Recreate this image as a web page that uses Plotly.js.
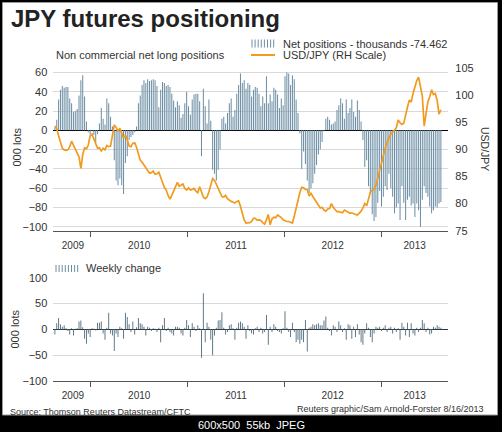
<!DOCTYPE html>
<html>
<head>
<meta charset="utf-8">
<script src="https://cdn.plot.ly/plotly-3.0.1.min.js"></script>
<style>
html,body{margin:0;padding:0;background:#000;overflow:hidden}
#chart{width:502px;height:432px}
</style>
</head>
<body>
<div id="chart"></div>
<script>
// ---------------- DATA (weekly, first week 2009-08-18) ----------------
const firstWeek = [2009, 7, 18]; // 18 Aug 2009 (month is 0-based)

// Non commercial net long positions, thousands of lots
const netPositions = [
  3, 11, 32, 42, 46, 44, 45, 45, 33, 28,
  19, 20, 22, 36, 52, 57, 35, 9, -2, -4,
  -1, -5, -13, -4, 7, 23, 12, 6, 33, 28,
  14, 4, -31, -52, -57, -50, -57, -66, -34, -27,
  -10, -7, -5, -2, 4, 28, 36, 47, 52, 49,
  53, 51, 52, 53, 52, 46, 24, 42, 50, 49,
  46, 47, 45, 38, 31, 24, 30, 26, 13, 17,
  28, 40, 25, 16, 32, 37, 38, 38, 30, -27,
  43, 25, 7, 32, 10, -41, -45, -52, -41, -20,
  12, 14, 7, 18, 28, 33, 14, 21, 38, 47,
  59, 49, 52, 43, 49, 47, 35, 42, 45, 44,
  38, 25, 35, 28, 56, 28, 37, 30, 44, 42,
  37, 23, 33, 26, 56, 60, 59, 47, 57, 53,
  32, 18, -3, -40, -22, -35, -52, -65, -60, -55,
  -45, -36, -25, -20, -12, -1, 12, 14, 11, 6,
  7, 9, 21, 26, 33, 28, 12, 32, 18, 23,
  32, 19, 14, 31, 21, 9, -10, -38, -31, -58,
  -66, -87, -94, -90, -75, -63, -79, -69, -58, -62,
  -45, -60, -69, -86, -80, -76, -93, -58, -75, -93,
  -72, -69, -78, -76, -90, -76, -83, -100, -72, -58,
  -65, -69, -79, -86, -83, -79, -80, -76, -74.462
];

// USD/JPY (right-hand scale)
const usdJpy = [
  94.3, 93.8, 92.5, 91.2, 90.2, 89.9, 89.8, 89.9, 90.5, 91.5,
  90.8, 90.2, 89.6, 88.6, 86.5, 89.0, 90.3, 90.1, 90.8, 92.5,
  92.8, 91.9, 90.8, 90.2, 90.3, 89.7, 90.2, 89.9, 90.7, 90.5,
  90.6, 92.3, 94.5, 94.1, 93.3, 93.9, 92.8, 92.1, 92.6, 91.8,
  90.6, 90.5, 91.1, 91.2, 90.4, 89.2, 88.0, 87.6, 87.1, 86.4,
  85.9, 85.6, 85.7, 86.0, 85.4, 85.5, 85.8, 85.0, 83.9, 83.0,
  82.5, 81.5, 80.8, 81.5, 82.3, 83.2, 83.9, 83.2, 83.4, 83.6,
  82.8, 82.5, 82.9, 82.5, 82.6, 82.8, 82.3, 82.0, 83.1, 82.2,
  81.2, 80.9, 81.2, 82.2, 83.2, 84.6, 84.3, 83.6, 82.8, 82.0,
  81.3, 81.2, 81.5, 80.9, 80.6, 80.4, 80.3, 80.1, 80.4, 80.5,
  79.5, 78.2, 77.0, 76.4, 76.4, 76.5, 76.7, 77.3, 77.3, 76.9,
  77.0, 76.9, 76.5, 76.2, 77.0, 78.0, 76.1, 77.2, 77.5, 77.4,
  77.9, 77.7, 77.4, 77.0, 76.8, 76.7, 76.7, 76.6, 76.4, 77.7,
  79.3, 80.7, 82.0, 83.0, 82.9, 82.6, 82.6, 81.4, 81.9, 81.3,
  80.8, 80.2, 79.6, 79.2, 79.3, 78.8, 78.6, 79.0, 79.1, 80.0,
  79.3, 78.8, 78.5, 78.5, 78.4, 78.3, 78.8, 78.6, 78.3, 78.2,
  78.3, 78.1, 78.0, 77.9, 78.2, 78.6, 79.2, 80.0, 79.6, 80.8,
  82.1, 82.4, 82.6, 83.4, 84.8, 86.3, 87.6, 89.1, 90.2, 91.3,
  92.2, 92.8, 93.2, 93.5, 94.0, 95.4, 94.9, 94.6, 94.8, 96.5,
  97.8, 99.1, 98.7, 100.3, 101.8, 102.7, 103.3, 101.3, 99.8, 94.3,
  96.3, 98.8, 99.7, 101.0, 100.1, 100.3, 99.0, 96.5, 97.3
];

// Weekly change in net positions, thousands of lots
const weeklyChange = [
  -10, 12, 22, 10, 5, 8, 2, -3, -10, 2,
  -12, 1, 2, 15, 17, 4, -18, -28, -8, -15,
  2, 1, -2, 13, 13, 15, -8, -20, 3, 32,
  -8, -12, -42, -8, -15, 5, 2, -18, 32, 24,
  10, -5, 15, -10, 4, 22, 12, 10, 5, -12,
  5, 3, -3, 2, 1, -5, 3, -25, 8, 22,
  -3, 3, -5, -8, -12, 5, 5, 3, -8, -12,
  3, 18, 8, -15, 12, 5, -3, 8, 2, -55,
  70, -25, 13, 5, -20, -50, -12, 3, 17, 18,
  33, 3, -10, -5, 8, 10, 2, -20, 3, 13,
  15, 12, 5, -18, 8, -3, -8, -10, 2, 5,
  -5, 3, -8, -5, 28, -30, 5, -5, 10, 5,
  -3, -5, -8, 2, 35, 3, -5, -15, 13, -5,
  -25, -20, -28, -20, -25, 18, -43, 3, 5, 10,
  8, 10, 12, 8, 8, 17, 25, 3, -3, -12,
  8, 5, -5, 15, 8, -5, 2, -20, 10, 8,
  -18, 5, -15, 10, -10, -25, -30, -8, 12, 3,
  -15, -25, -8, 5, 3, 5, -3, 3, 8, -5,
  3, 5, -8, 3, -5, 2, -20, 13, 5, -12,
  13, -15, 12, -8, -12, 3, -5, 3, 18, 12,
  -5, 3, -10, -8, 5, 3, 8, 5, 3
];

const xRange = ['2009-08-12', '2013-09-10'];
const yearBoundaries = ['2010-01-01', '2011-01-01', '2012-01-01', '2013-01-01'];
const yearLabelDates = ['2009-10-25', '2010-07-02', '2011-07-02', '2012-07-01', '2013-05-06'];
const yearLabels = ['2009', '2010', '2011', '2012', '2013'];
const leftTicks = [-100, -80, -60, -40, -20, 0, 20, 40, 60];
const rightTicks = [75, 80, 85, 90, 95, 100, 105];
const changeTicks = [-100, -50, 0, 50, 100];

// ---------------- HELPERS ----------------
const W = 502, H = 432;
const fx = v => v / W;
const fy = v => 1 - v / H;
const FONT = 'Liberation Sans, Arial, Helvetica, sans-serif';
const TXT = '#333333';
const BAR_TOP = '#6c8ea4';
const BAR_BOT = '#536f81';
const ORANGE = '#f29a1e';
const GRID = '#d9d9d9';

const t0 = Date.UTC(firstWeek[0], firstWeek[1], firstWeek[2]);
const weeks = netPositions.map((_, i) => new Date(t0 + i * 7 * 864e5).toISOString().slice(0, 10));
const WEEK_MS = 7 * 864e5;

const xDom = [fx(53.3), fx(448.3)];
const topDom = [fy(230.7), fy(68)];
const botDom = [fy(381), fy(277.7)];

function xAxis(anchor) {
  return {
    domain: xDom, anchor: anchor, type: 'date', range: xRange,
    tickmode: 'array', tickvals: yearLabelDates, ticktext: yearLabels,
    ticks: 'outside', ticklen: 5, tickcolor: 'rgba(0,0,0,0)',
    tickfont: {size: 10, color: TXT, family: FONT},
    showgrid: false, zeroline: false,
    showline: true, linecolor: '#555', linewidth: 1,
    minor: {tickmode: 'array', tickvals: yearBoundaries, ticks: 'outside',
            ticklen: 5, tickwidth: 1, tickcolor: '#555', showgrid: false},
    fixedrange: true
  };
}

function ann(text, x, y, o) {
  return Object.assign({
    text: text, xref: 'paper', yref: 'paper', x: fx(x), y: fy(y),
    xanchor: 'left', yanchor: 'middle', showarrow: false,
    borderpad: 0, font: {family: FONT, size: 11, color: TXT}
  }, o || {});
}

// frame and legend icons
const shapes = [
  {type: 'rect', xref: 'paper', yref: 'paper', x0: fx(2.5), x1: fx(497.5), y0: fy(415), y1: fy(2.5),
   fillcolor: '#ffffff', line: {color: '#9a9a9a', width: 1}, layer: 'below'},
  {type: 'line', xref: 'paper', yref: 'paper', x0: fx(251), x1: fx(275), y0: fy(55), y1: fy(55),
   line: {color: ORANGE, width: 2}}
];
for (let k = 0; k < 8; k++) {
  shapes.push({type: 'line', xref: 'paper', yref: 'paper', x0: fx(252 + 3.1 * k), x1: fx(252 + 3.1 * k),
    y0: fy(47.5), y1: fy(39.5), line: {color: BAR_TOP, width: 1}});
  shapes.push({type: 'line', xref: 'paper', yref: 'paper', x0: fx(56 + 3.1 * k), x1: fx(56 + 3.1 * k),
    y0: fy(272), y1: fy(265), line: {color: BAR_TOP, width: 1}});
}

const annotations = [
  ann('<b>JPY futures positioning</b>', 9.5, 18.6, {font: {family: FONT, size: 24, color: '#222'}}),
  ann('Non commercial net long positions', 54.5, 55.5),
  ann('Net positions - thousands -74.462', 281.5, 43.8),
  ann('USD/JPY (RH Scale)', 281.5, 55.2),
  ann('000 lots', 16.5, 147, {xanchor: 'center', textangle: -90}),
  ann('USD/JPY', 485.5, 148.5, {xanchor: 'center', textangle: 90, font: {family: FONT, size: 10.5, color: TXT}}),
  ann('Weekly change', 85, 268.2),
  ann('000 lots', 14.5, 329, {xanchor: 'center', textangle: -90}),
  ann('Source: Thomson Reuters Datastream/CFTC', 8.5, 411.8, {font: {family: FONT, size: 9, color: TXT}}),
  ann('Reuters graphic/Sam Arnold-Forster 8/16/2013', 485, 409, {xanchor: 'right', font: {family: FONT, size: 9, color: TXT}}),
  ann('600x500  55kb  JPEG', 251, 425, {xanchor: 'center', font: {family: FONT, size: 11, color: '#ffffff'}})
];

const traces = [
  {type: 'bar', x: weeks, y: netPositions, xaxis: 'x', yaxis: 'y', width: WEEK_MS * 0.55,
   marker: {color: BAR_TOP, line: {width: 0}}, hoverinfo: 'skip'},
  {type: 'scatter', mode: 'lines', x: weeks, y: usdJpy, xaxis: 'x', yaxis: 'y2',
   line: {color: ORANGE, width: 1.7}, hoverinfo: 'skip'},
  {type: 'bar', x: weeks, y: weeklyChange, xaxis: 'x2', yaxis: 'y3', width: WEEK_MS * 0.5,
   marker: {color: BAR_BOT, line: {width: 0}}, hoverinfo: 'skip'}
];

const layout = {
  width: W, height: H,
  margin: {l: 0, r: 0, t: 0, b: 0, pad: 0},
  paper_bgcolor: '#000000', plot_bgcolor: 'rgba(0,0,0,0)',
  showlegend: false,
  font: {family: FONT, size: 11, color: TXT},
  xaxis: xAxis('y'),
  xaxis2: xAxis('y3'),
  yaxis: {
    domain: topDom, anchor: 'x', range: [-104.1, 64.6],
    tickmode: 'array', tickvals: leftTicks, ticks: '',
    tickfont: {size: 11, color: TXT, family: FONT}, ticklabelstandoff: 5,
    showgrid: true, gridcolor: GRID, gridwidth: 1,
    zeroline: true, zerolinecolor: '#000', zerolinewidth: 1,
    showline: false, fixedrange: true
  },
  yaxis2: {
    overlaying: 'y', side: 'right', anchor: 'x', range: [75, 105],
    tickmode: 'array', tickvals: rightTicks, ticks: '',
    tickfont: {size: 11, color: TXT, family: FONT}, ticklabelstandoff: 6,
    showgrid: false, zeroline: false, showline: false, fixedrange: true
  },
  yaxis3: {
    domain: botDom, anchor: 'x2', range: [-100, 100],
    tickmode: 'array', tickvals: changeTicks, ticks: '',
    tickfont: {size: 11, color: TXT, family: FONT}, ticklabelstandoff: 5,
    showgrid: true, gridcolor: GRID, gridwidth: 1,
    zeroline: true, zerolinecolor: '#333', zerolinewidth: 1,
    showline: false, fixedrange: true
  },
  shapes: shapes,
  annotations: annotations
};

Plotly.newPlot('chart', traces, layout, {staticPlot: true, displayModeBar: false});
</script>
</body>
</html>
